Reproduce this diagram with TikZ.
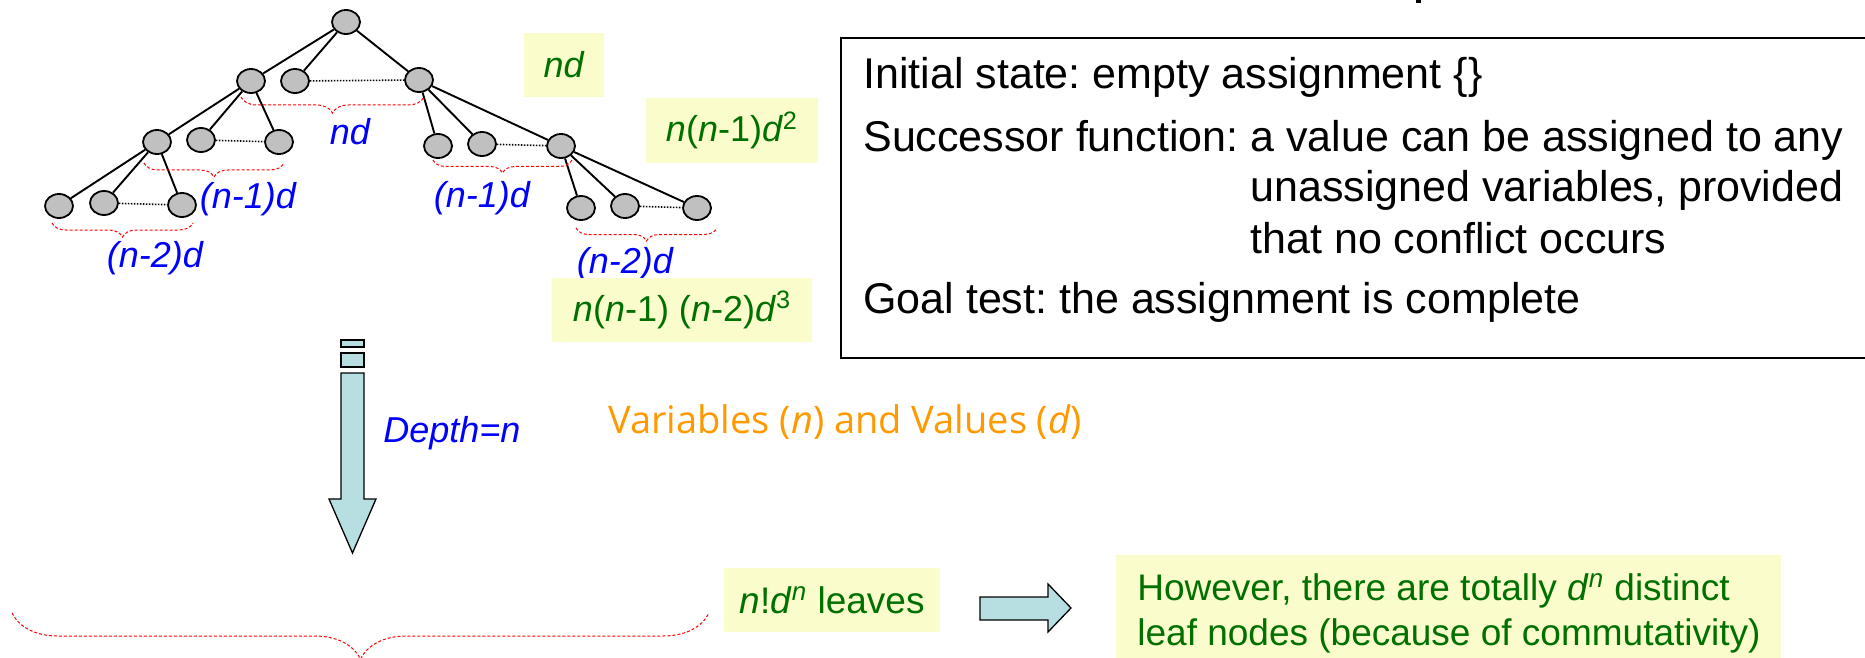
\documentclass[tikz,border=0pt]{standalone}
\usepackage{fontspec}
\setmainfont{Liberation Sans}
\newfontfamily\handfont{Open Sans}
\usetikzlibrary{shapes.geometric,decorations.pathreplacing}

\definecolor{stategray}{RGB}{192,192,192}
\definecolor{notefill}{RGB}{250,252,204}
\definecolor{notegreen}{RGB}{0,112,0}
\definecolor{arrowfill}{RGB}{183,222,225}
\definecolor{varorange}{RGB}{255,153,0}

\frenchspacing
\begin{document}
\begin{tikzpicture}[x=0.5pt,y=-0.5pt,
	state/.style={ellipse,draw,fill=stategray,line width=0.9pt,minimum width=14pt,minimum height=12pt,inner sep=0pt},
	branch/.style={line width=0.95pt},
	gap/.style={line width=0.8pt,dash pattern=on 0.7pt off 0.8pt},
	span/.style={decorate,decoration={brace,mirror,amplitude=#1},draw=red,line width=0.5pt,dash pattern=on 1.5pt off 1pt},
	count/.style={blue,font=\fontsize{18}{20}\selectfont\itshape,inner sep=0pt,anchor=base},
	note/.style={fill=notefill,text=notegreen,font=\fontsize{18}{20}\selectfont,inner sep=0pt},
	boxtext/.style={font=\fontsize{21.5}{25}\selectfont,inner sep=0pt,anchor=base west}]

	\useasboundingbox (0,0) rectangle (1865,658);
	\clip (0,0) rectangle (1865,658);

	\node[state] (Root) at (346,22) {};
	\node[state] (A1) at (251,81) {};
	\node[state] (A2) at (295,81) {};
	\node[state] (A3) at (419,80) {};
	\node[state] (B1) at (157,142) {};
	\node[state] (B2) at (201,140) {};
	\node[state] (B3) at (279,142) {};
	\node[state] (C1) at (438,146) {};
	\node[state] (C2) at (482,144) {};
	\node[state] (C3) at (561,146) {};
	\node[state] (D1) at (59,206) {};
	\node[state] (D2) at (104,203) {};
	\node[state] (D3) at (182,205) {};
	\node[state] (E1) at (581,208) {};
	\node[state] (E2) at (625,206) {};
	\node[state] (E3) at (697,208) {};

	\foreach \c in {A1,A2,A3} \draw[branch] (Root) -- (\c);
	\foreach \c in {B1,B2,B3} \draw[branch] (A1) -- (\c);
	\foreach \c in {C1,C2,C3} \draw[branch] (A3) -- (\c);
	\foreach \c in {D1,D2,D3} \draw[branch] (B1) -- (\c);
	\foreach \c in {E1,E2,E3} \draw[branch] (C3) -- (\c);

	\draw[gap] (A2) -- (A3);
	\draw[gap] (B2) -- (B3);
	\draw[gap] (C2) -- (C3);
	\draw[gap] (D2) -- (D3);
	\draw[gap] (E2) -- (E3);

	\draw[span=8pt] (241,97) -- (424,97);
	\draw[span=7pt] (144,163) -- (284,163);
	\draw[span=6.5pt] (433,160) -- (572,160);
	\draw[span=7pt] (52,223) -- (193,223);
	\draw[span=6.5pt] (576,228) -- (717,228);
	\draw[span=23pt] (12,613) -- (709,613);

	\node[count] (SpanA) at (350,145) {nd};
	\node[count] (SpanB) at (248,208) {(n-1)d};
	\node[count] (SpanC) at (482,207) {(n-1)d};
	\node[count] (SpanD) at (155,267) {(n-2)d};
	\node[count] (SpanE) at (625,273) {(n-2)d};

	\node[note,minimum width=40pt,minimum height=32pt] (NoteA) at (564,65) {\textit{nd}};
	\node[note,minimum width=86pt,minimum height=32.5pt] (NoteB) at (732,130.5) {\textit{n}(\textit{n}-1)\textit{d}\textsuperscript{2}};
	\node[note,minimum width=130pt,minimum height=32pt] (NoteC) at (682,310) {\textit{n}(\textit{n}-1) (\textit{n}-2)\textit{d}\textsuperscript{3}};
	\node[note,minimum width=108pt,minimum height=32pt,font=\fontsize{18.5}{20}\selectfont] (Leaves) at (832,600) {\textit{n}!\textit{d}\textsuperscript{\textit{n}} leaves};

	\draw[line width=1.3pt] (841,38) rectangle (1900,358);
	\node[boxtext] (Init) at (863,89) {Initial state: empty assignment \{\}};
	\node[boxtext] (Succ) at (863,152) {Successor function: a value can be assigned to any};
	\node[boxtext] (SuccB) at (863,202) {\hphantom{Successor function: }unassigned variables, provided};
	\node[boxtext] (SuccC) at (863,253) {\hphantom{Successor function: }that no conflict occurs};
	\node[boxtext] (Goal) at (863,313) {Goal test: the assignment is complete};
	\fill (1416,0) rectangle (1421,3);

	\draw[fill=arrowfill,line width=0.65pt] (341,340) rectangle (364,347);
	\draw[fill=arrowfill,line width=0.65pt] (341,353) rectangle (364,367);
	\draw[fill=arrowfill,line width=0.65pt] (341,373) -- (364,373) -- (364,499) -- (376,499) -- (352.5,553) -- (329,499) -- (341,499) -- cycle;
	\node[blue,font=\fontsize{18}{20}\selectfont\itshape,inner sep=0pt,anchor=base west] (Depth) at (383,442) {Depth=n};
	\node[text=varorange,font=\handfont\fontsize{19}{22}\selectfont,inner sep=0pt,anchor=base west] (Vars) at (608,433) {Variables (\textit{n}) and Values (\textit{d})};

	\draw[fill=arrowfill,line width=0.65pt] (980,597) -- (1048,597) -- (1048,584) -- (1071,608) -- (1048,632) -- (1048,620) -- (980,620) -- cycle;
	\fill[notefill] (1116,555) rectangle (1781,670);
	\node[text=notegreen,font=\fontsize{18.5}{22}\selectfont,inner sep=0pt,anchor=base west] (TotalA) at (1137,600) {However, there are totally \textit{d}\textsuperscript{\textit{n}} distinct};
	\node[text=notegreen,font=\fontsize{18.5}{22}\selectfont,inner sep=0pt,anchor=base west] (TotalB) at (1137,645) {leaf nodes (because of commutativity)};
\end{tikzpicture}
\end{document}
